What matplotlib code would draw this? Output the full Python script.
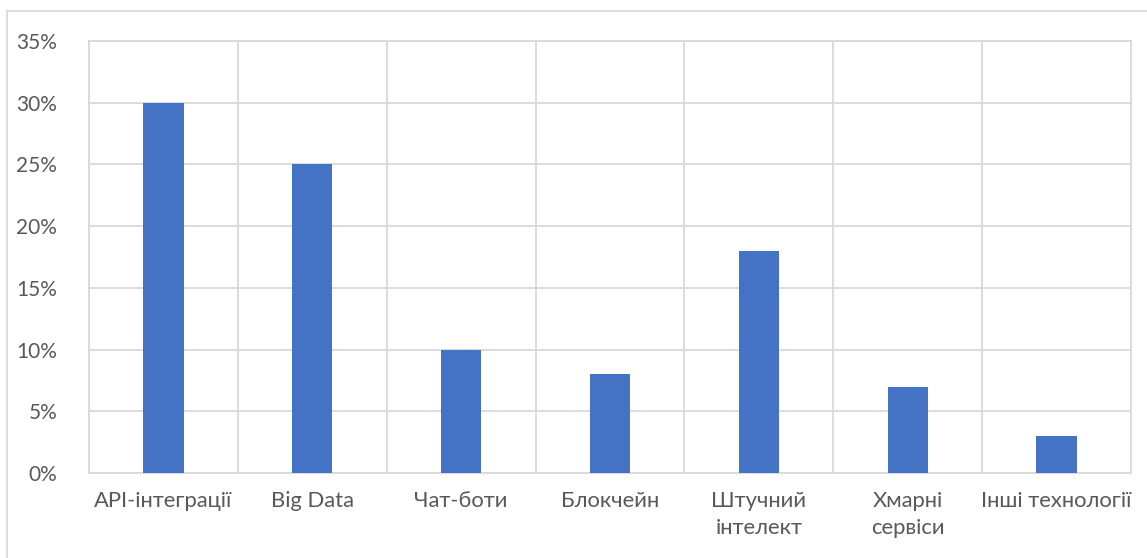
import matplotlib
matplotlib.use("Agg")
import matplotlib.pyplot as plt
from matplotlib.patches import Rectangle
from matplotlib.ticker import FuncFormatter, MultipleLocator

categories = ["API-інтеграції", "Big Data", "Чат-боти", "Блокчейн",
              "Штучний\nінтелект", "Хмарні\nсервіси", "Інші технології"]
values = [30, 25, 10, 8, 18, 7, 3]

plt.rcParams['font.family'] = ['Lato', 'DejaVu Sans']
W, H = 1147, 558
fig = plt.figure(figsize=(W / 100, H / 100), dpi=100)
ax = fig.add_axes([89 / W, 1 - 473 / H, (1131 - 89) / W, (473 - 41) / H])

grid_c = '#d9d9d9'
text_c = '#595959'
x = list(range(len(categories)))
ax.bar(x, values, width=0.27, color='#4472C4', zorder=3)
ax.set_xlim(-0.5, len(categories) - 0.5)
ax.set_ylim(0, 35)
ax.yaxis.set_major_locator(MultipleLocator(5))
ax.yaxis.set_major_formatter(FuncFormatter(lambda v, p: f"{v:.0f}%"))
ax.set_xticks(x)
ax.set_xticklabels(categories, linespacing=1.45)
ax.set_xticks([i - 0.5 for i in range(len(categories) + 1)], minor=True)
ax.grid(True, axis='y', which='major', color=grid_c, linewidth=1.3, zorder=0)
ax.grid(True, axis='x', which='minor', color=grid_c, linewidth=1.3, zorder=0)
ax.grid(False, axis='x', which='major')
for s in ax.spines.values():
    s.set_color(grid_c)
    s.set_linewidth(1.3)
ax.tick_params(axis='both', which='both', length=0, labelsize=15.8, colors=text_c)
ax.tick_params(axis='y', pad=23, labelsize=15)
ax.tick_params(axis='x', pad=13)
for lbl in ax.get_xticklabels():
    lbl.set_verticalalignment('top')

fig.patches.append(Rectangle((7.5 / W, -0.1), 1.2, 1 - 11.5 / H + 0.1,
                             transform=fig.transFigure, fill=False,
                             edgecolor=grid_c, linewidth=1.3))
fig.savefig("out.png", dpi=100)
